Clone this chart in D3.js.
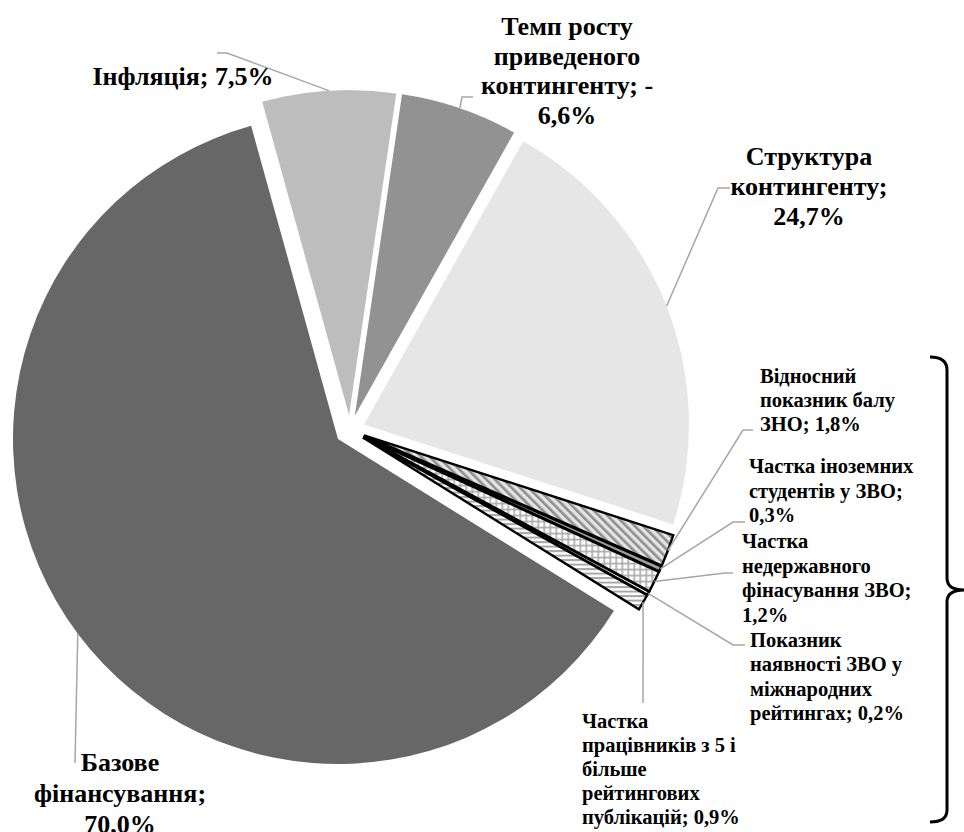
<!DOCTYPE html>
<html>
<head>
<meta charset="utf-8">
<script src="https://cdn.jsdelivr.net/npm/d3@7"></script>
<style>
    body { margin: 0; background: #fff; }
    svg { display: block; }
</style>
</head>
<body>
<div id="pie-chart"></div>
<script>
// data, in the order the slices go clockwise (first one starts a bit left of 12 o'clock)
const categories = [
    "Інфляція",
    "Темп росту приведеного контингенту",
    "Структура контингенту",
    "Відносний показник балу ЗНО",
    "Частка іноземних студентів у ЗВО",
    "Частка недержавного фінасування ЗВО",
    "Показник наявності ЗВО у міжнародних рейтингах",
    "Частка працівників з 5 і більше рейтингових публікацій",
    "Базове фінансування"
];
const values = [7.5, 6.6, 24.7, 1.8, 0.3, 1.2, 0.2, 0.9, 70.0];
const valueLabels = ["7,5%", "-6,6%", "24,7%", "1,8%", "0,3%", "1,2%", "0,2%", "0,9%", "70,0%"];

// label text broken in lines like in the original
const labelLines = [
    ["Інфляція; 7,5%"],
    ["Темп росту", "приведеного", "контингенту; -", "6,6%"],
    ["Структура", "контингенту;", "24,7%"],
    ["Відносний", "показник балу", "ЗНО; 1,8%"],
    ["Частка іноземних", "студентів у ЗВО;", "0,3%"],
    ["Частка", "недержавного", "фінасування ЗВО;", "1,2%"],
    ["Показник", "наявності ЗВО у", "міжнародних", "рейтингах; 0,2%"],
    ["Частка", "працівників з 5 і", "більше", "рейтингових", "публікацій; 0,9%"],
    ["Базове", "фінансування;", "70,0%"]
];

// layout stuff (not data)
const width = 964;
const height = 832;
const center = { x: 350, y: 430 };
const radius = 325;
const explode = 15;
const startDeg = -15.5;
const fontFamily = "Liberation Serif";
const bigFont = 26;
const smallFont = 20.5;

const fills = ["#bdbdbd", "#929292", "#e6e6e6", "url(#diag)", "#9a9a9a", "url(#cross)", "#ffffff", "url(#hlines)", "#676767"];
const outlined = [false, false, false, true, true, true, true, true, false];

// label anchor x, first baseline y, anchor, line height, font size, leader elbow points
const labelLayout = [
    { x: 183, y: 85, anchor: "middle", lh: 30, size: bigFont, elbow: [[217, 53], [227, 53]] },
    { x: 567, y: 35, anchor: "middle", lh: 29.5, size: bigFont, elbow: [[473, 97], [462, 97]] },
    { x: 809, y: 165, anchor: "middle", lh: 30, size: bigFont, elbow: [[730, 188], [718, 188]] },
    { x: 760, y: 383, anchor: "start", lh: 24, size: smallFont, elbow: [[753, 430], [743, 430]] },
    { x: 749, y: 473, anchor: "start", lh: 24.5, size: smallFont, elbow: [[745, 522], [733, 522]] },
    { x: 742, y: 548, anchor: "start", lh: 24.6, size: smallFont, elbow: [[733, 573], [725, 573]] },
    { x: 750, y: 647, anchor: "start", lh: 24.3, size: smallFont, elbow: [[745, 645], [733, 645]] },
    { x: 582, y: 728, anchor: "start", lh: 24, size: smallFont, elbow: [[643, 703]] },
    { x: 120, y: 771, anchor: "middle", lh: 31, size: bigFont, elbow: [[75, 763]] }
];

const svg = d3.select("#pie-chart")
    .append("svg")
        .attr("width", width)
        .attr("height", height);

// hatch patterns for the small slices
const defs = svg.append("defs");

const diag = defs.append("pattern")
    .attr("id", "diag")
    .attr("patternUnits", "userSpaceOnUse")
    .attr("width", 6)
    .attr("height", 6)
    .attr("patternTransform", "rotate(-45)");
diag.append("rect").attr("width", 6).attr("height", 6).attr("fill", "#e4e4e4");
diag.append("rect").attr("width", 2.6).attr("height", 6).attr("fill", "#8e8e8e");

const cross = defs.append("pattern")
    .attr("id", "cross")
    .attr("patternUnits", "userSpaceOnUse")
    .attr("width", 6)
    .attr("height", 6);
cross.append("rect").attr("width", 6).attr("height", 6).attr("fill", "#ffffff");
cross.append("rect").attr("width", 6).attr("height", 1.6).attr("fill", "#a8a8a8");
cross.append("rect").attr("width", 1.6).attr("height", 6).attr("fill", "#a8a8a8");

const hlines = defs.append("pattern")
    .attr("id", "hlines")
    .attr("patternUnits", "userSpaceOnUse")
    .attr("width", 6)
    .attr("height", 4.5);
hlines.append("rect").attr("width", 6).attr("height", 4.5).attr("fill", "#ffffff");
hlines.append("rect").attr("width", 6).attr("height", 2).attr("fill", "#a6a6a6");

const data = values.map((v, i) => ({ name: categories[i], value: v, label: valueLabels[i], i }));

const start = startDeg * Math.PI / 180;
const pie = d3.pie()
    .sort(null)
    .value(d => d.value)
    .startAngle(start)
    .endAngle(start + 2 * Math.PI);

const arcs = pie(data);

const arc = d3.arc()
    .innerRadius(0)
    .outerRadius(radius);

// offset of an exploded slice along its bisector
function offset(a) {
    const mid = (a.startAngle + a.endAngle) / 2;
    return [center.x + explode * Math.sin(mid), center.y - explode * Math.cos(mid)];
}

// point on the outer edge at the middle of the slice, where leaders end
function outerMid(a) {
    const mid = (a.startAngle + a.endAngle) / 2;
    const [ox, oy] = offset(a);
    return [ox + radius * Math.sin(mid), oy - radius * Math.cos(mid)];
}

const chart = svg.append("g");

chart.selectAll("path.slice")
    .data(arcs)
    .join("path")
        .attr("class", "slice")
        .attr("transform", d => `translate(${offset(d)})`)
        .attr("d", arc)
        .attr("fill", d => fills[d.data.i])
        .attr("stroke", d => outlined[d.data.i] ? "#000" : "none")
        .attr("stroke-width", 2.4)
        .attr("stroke-linejoin", "miter");

// leader lines
const line = d3.line();
svg.selectAll("path.leader")
    .data(arcs)
    .join("path")
        .attr("class", "leader")
        .attr("d", d => line([...labelLayout[d.data.i].elbow, outerMid(d)]))
        .attr("fill", "none")
        .attr("stroke", "#a6a6a6")
        .attr("stroke-width", 1.5);

// labels
const labels = svg.selectAll("text.label")
    .data(arcs)
    .join("text")
        .attr("class", "label")
        .attr("font-family", fontFamily)
        .attr("font-weight", "bold")
        .attr("fill", "#000")
        .attr("x", d => labelLayout[d.data.i].x)
        .attr("y", d => labelLayout[d.data.i].y)
        .attr("text-anchor", d => labelLayout[d.data.i].anchor)
        .attr("font-size", d => labelLayout[d.data.i].size);

labels.selectAll("tspan")
    .data(d => labelLines[d.data.i].map((t, k) => ({ t, k, lay: labelLayout[d.data.i] })))
    .join("tspan")
        .attr("x", d => d.lay.x)
        .attr("y", d => d.lay.y + d.k * d.lay.lh)
        .text(d => d.t);

// curly bracket grouping the small indicators
svg.append("path")
    .attr("d", "M930,357 Q947,357 947,370 L947,578 Q947,590 964,590 M964,590 Q947,590 947,602 L947,810 Q947,822 930,822")
    .attr("fill", "none")
    .attr("stroke", "#000")
    .attr("stroke-width", 3);
</script>
</body>
</html>
